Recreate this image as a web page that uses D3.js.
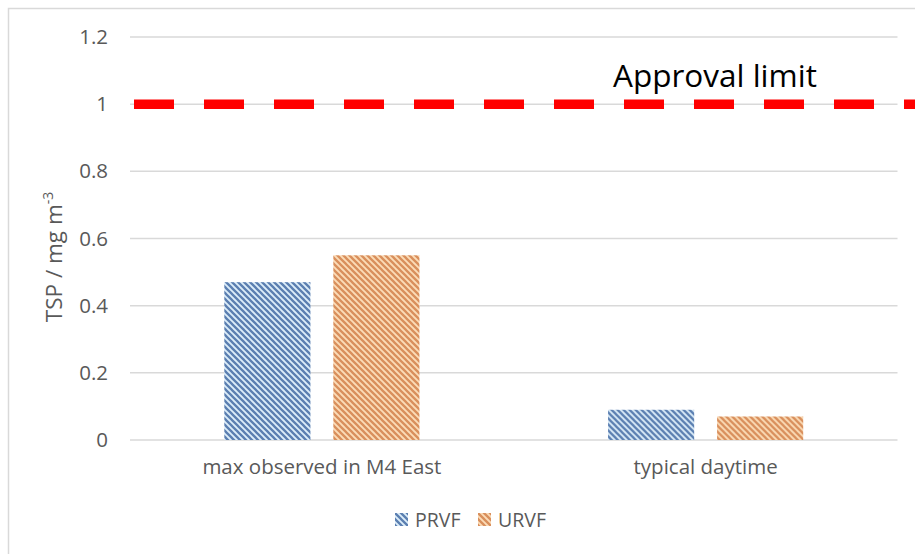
<!DOCTYPE html>
<html>
<head>
<meta charset="utf-8">
<script src="https://cdn.jsdelivr.net/npm/d3@7"></script>
<style>
  body { margin: 0; background: #fff; }
  text { font-family: "Open Sans", "Liberation Sans", sans-serif; }
</style>
</head>
<body>
<svg id="chart" width="915" height="554"></svg>
<script>
// data
var categories = ["max observed in M4 East", "typical daytime"];
var seriesNames = ["PRVF", "URVF"];
var prvf = [0.47, 0.09];
var urvf = [0.55, 0.07];
var yTicks = [0, 0.2, 0.4, 0.6, 0.8, 1, 1.2];
var limitValue = 1;

var colors = {
  PRVF: { dark: "#5b7fb1", light: "#dcedf9" },
  URVF: { dark: "#d98f5c", light: "#fbdcb7" }
};

var svg = d3.select("#chart");
var W = 915, H = 554;
var plotL = 130, plotR = 897.5, plotT = 37, plotB = 440;

// chart border (only left/top visible in crop)
svg.append("rect")
  .attr("x", 8.5).attr("y", 8.5)
  .attr("width", 940).attr("height", 600)
  .attr("fill", "none").attr("stroke", "#d9d9d9").attr("stroke-width", 1.5);

// patterns
var defs = svg.append("defs");
seriesNames.forEach(function(s) {
  var p = defs.append("pattern")
    .attr("id", "pat-" + s)
    .attr("patternUnits", "userSpaceOnUse")
    .attr("width", 6).attr("height", 6);
  p.append("rect").attr("width", 6).attr("height", 6).attr("fill", colors[s].light);
  p.append("path")
    .attr("d", "M-1,-1 L7,7 M-4,2 L1,7 M2,-4 L7,1")
    .attr("stroke", colors[s].dark).attr("stroke-width", 2.3);
});

var y = d3.scaleLinear().domain([0, 1.2]).range([plotB, plotT]);
var x0 = d3.scaleBand().domain(categories).range([plotL, plotR]);
var x1 = d3.scaleBand().domain(seriesNames).range([0, x0.bandwidth()])
  .paddingInner(0.21).paddingOuter(0.865);

// gridlines
svg.append("g").selectAll("line")
  .data(yTicks)
  .enter().append("line")
  .attr("x1", plotL).attr("x2", plotR)
  .attr("y1", function(d) { return y(d); })
  .attr("y2", function(d) { return y(d); })
  .attr("stroke", "#d9d9d9").attr("stroke-width", 1.5);

// y axis labels
var yAxis = d3.axisLeft(y).tickValues(yTicks).tickSize(0).tickPadding(22)
  .tickFormat(function(d) { return d3.format("~g")(d); });
var gy = svg.append("g").attr("transform", "translate(" + plotL + ",0)").call(yAxis);
gy.select(".domain").remove();
gy.selectAll("text").attr("fill", "#595959").style("font-size", "20.5px")
  .style("font-family", "'Open Sans', sans-serif");

// y axis title
var title = svg.append("text")
  .attr("transform", "translate(62,257) rotate(-90)")
  .attr("text-anchor", "middle")
  .attr("fill", "#595959")
  .style("font-size", "22.5px");
title.append("tspan").text("TSP / mg m");
title.append("tspan").attr("dy", -9).style("font-size", "14px").text("-3");

// bars
var rows = categories.map(function(c, i) {
  return { cat: c, values: [ { s: "PRVF", v: prvf[i] }, { s: "URVF", v: urvf[i] } ] };
});
var groups = svg.append("g").selectAll("g")
  .data(rows).enter().append("g")
  .attr("transform", function(d) { return "translate(" + x0(d.cat) + ",0)"; });
groups.selectAll("rect")
  .data(function(d) { return d.values; })
  .enter().append("rect")
  .attr("x", function(d) { return x1(d.s); })
  .attr("width", x1.bandwidth())
  .attr("y", function(d) { return y(d.v); })
  .attr("height", function(d) { return y(0) - y(d.v); })
  .attr("fill", function(d) { return "url(#pat-" + d.s + ")"; });

// x axis labels
var xAxis = d3.axisBottom(x0).tickSize(0).tickPadding(19);
var gx = svg.append("g").attr("transform", "translate(0," + plotB + ")").call(xAxis);
gx.select(".domain").remove();
gx.selectAll("text").attr("fill", "#595959").style("font-size", "20.5px")
  .style("font-family", "'Open Sans', sans-serif");

// approval limit line
svg.append("line")
  .attr("x1", plotL + 4).attr("x2", W + 10)
  .attr("y1", y(limitValue)).attr("y2", y(limitValue))
  .attr("stroke", "#ff0000").attr("stroke-width", 9.5)
  .attr("stroke-dasharray", "40,30");

svg.append("text")
  .attr("x", 613).attr("y", 87)
  .attr("fill", "#000")
  .style("font-size", "31.5px")
  .text("Approval limit");

// legend
var legend = svg.append("g").selectAll("g")
  .data(seriesNames).enter().append("g")
  .attr("transform", function(d, i) { return "translate(" + (395 + i * 83) + ",513)"; });
legend.append("rect").attr("width", 13).attr("height", 13)
  .attr("fill", function(d) { return "url(#pat-" + d + ")"; });
legend.append("text").attr("x", 20).attr("y", 14)
  .attr("fill", "#595959").style("font-size", "19.5px")
  .text(function(d) { return d; });
</script>
</body>
</html>
